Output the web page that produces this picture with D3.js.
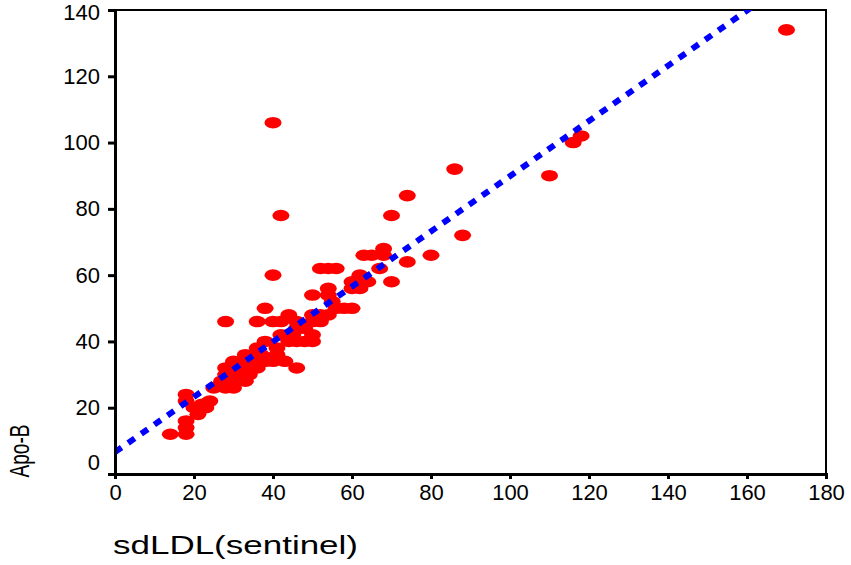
<!DOCTYPE html>
<html>
<head>
<meta charset="utf-8">
<script src="https://cdn.jsdelivr.net/npm/d3@7"></script>
<style>
  html, body { margin: 0; padding: 0; background: #fff; }
  svg { display: block; }
  text { font-family: "Liberation Sans", Arial, sans-serif; fill: #000; }
</style>
</head>
<body>
<svg id="chart" width="851" height="565"></svg>
<script>
// ---- data ----
const sdLDL = [170,40,42,86,74,70,110,118,116,88,80,74,70,68,68,63,65,67,40,52,54,56,62,60,64,54,60,50,54,58,60,38,28,36,40,42,44,50,52,54,56,50,52,46,48,50,50,42,44,44,46,38,36,41,41,40,43,46,37,33,32,35,36,33,30,28,28,32,30,27,33,28,25,24,22,21,20,18,18,18,18,18,14,23,30,38,48,55,62,46,34,47,45,31];
const apoB  = [134,106,78,92,84,78,90,102,100,72,66,64,58,68,66,66,66,62,60,62,62,62,60,58,58,56,56,54,54,50,50,50,46,46,46,46,48,48,48,48,50,46,46,44,44,42,40,42,42,40,40,40,38,38,36,34,34,32,36,36,34,34,32,32,34,32,30,30,28,28,28,26,26,22,21,18,20,24,22,16,14,12,12,20,26,34,40,52,56,46,30,44,42,32];
const fitX = [0, 180];
const fitY = [6.6, 156.5];
const xTicks = [0,20,40,60,80,100,120,140,160,180];
const yTicks = [0,20,40,60,80,100,120,140];
const xTitle = "sdLDL(sentinel)";
const yTitle = "Apo-B";

// ---- layout ----
const L = 115, R = 826, T = 10, B = 474;
const svg = d3.select("#chart");
const x = d3.scaleLinear().domain([0,180]).range([L,R]);
const y = d3.scaleLinear().domain([0,140]).range([B,T]);

svg.append("defs").append("clipPath").attr("id","plotclip")
  .append("rect").attr("x",L).attr("y",T).attr("width",R-L).attr("height",B-T);

// frame
svg.append("rect").attr("x",L).attr("y",T).attr("width",R-L).attr("height",B-T)
  .attr("fill","none").attr("stroke","#000").attr("stroke-width",2);

// points
const pts = sdLDL.map((v,i)=>({x:v,y:apoB[i]}));
svg.append("g").attr("clip-path","url(#plotclip)")
  .selectAll("ellipse").data(pts).join("ellipse")
  .attr("cx",d=>x(d.x)).attr("cy",d=>y(d.y))
  .attr("rx",8.5).attr("ry",5.8).attr("fill","#ff0000");

// fit line
const fit = fitX.map((v,i)=>({x:v,y:fitY[i]}));
svg.append("path").datum(fit).attr("clip-path","url(#plotclip)")
  .attr("d", d3.line().x(d=>x(d.x)).y(d=>y(d.y)))
  .attr("fill","none").attr("stroke","#0000ff").attr("stroke-width",6)
  .attr("stroke-dasharray","8,8");

// axes
const yAxis = svg.append("g").attr("transform",`translate(${L},0)`)
  .call(d3.axisLeft(y).tickValues(yTicks).tickSize(7).tickPadding(8).tickFormat(d3.format("d")));
const xAxis = svg.append("g").attr("transform",`translate(0,${B})`)
  .call(d3.axisBottom(x).tickValues(xTicks).tickSize(5).tickPadding(5).tickFormat(d3.format("d")));
[yAxis, xAxis].forEach(g=>{
  g.select(".domain").attr("stroke","#000").attr("stroke-width",3);
  g.selectAll(".tick line").attr("stroke","#000").attr("stroke-width",3);
  g.selectAll(".tick text").attr("font-size",22).attr("font-family","Liberation Sans, Arial, sans-serif").attr("fill","#000");
});
yAxis.selectAll(".tick text").filter(d=>d===0).attr("dy","-0.2em");
yAxis.selectAll(".tick text").filter(d=>d===140).attr("dy","0.42em");

// titles
svg.append("text").attr("x",113).attr("y",554).attr("font-size",25)
  .attr("textLength",245).attr("lengthAdjust","spacingAndGlyphs").text(xTitle);
svg.append("text").attr("transform","translate(29,451) rotate(-90)")
  .attr("text-anchor","middle").attr("font-size",27)
  .attr("textLength",53).attr("lengthAdjust","spacingAndGlyphs").text(yTitle);
</script>
</body>
</html>
